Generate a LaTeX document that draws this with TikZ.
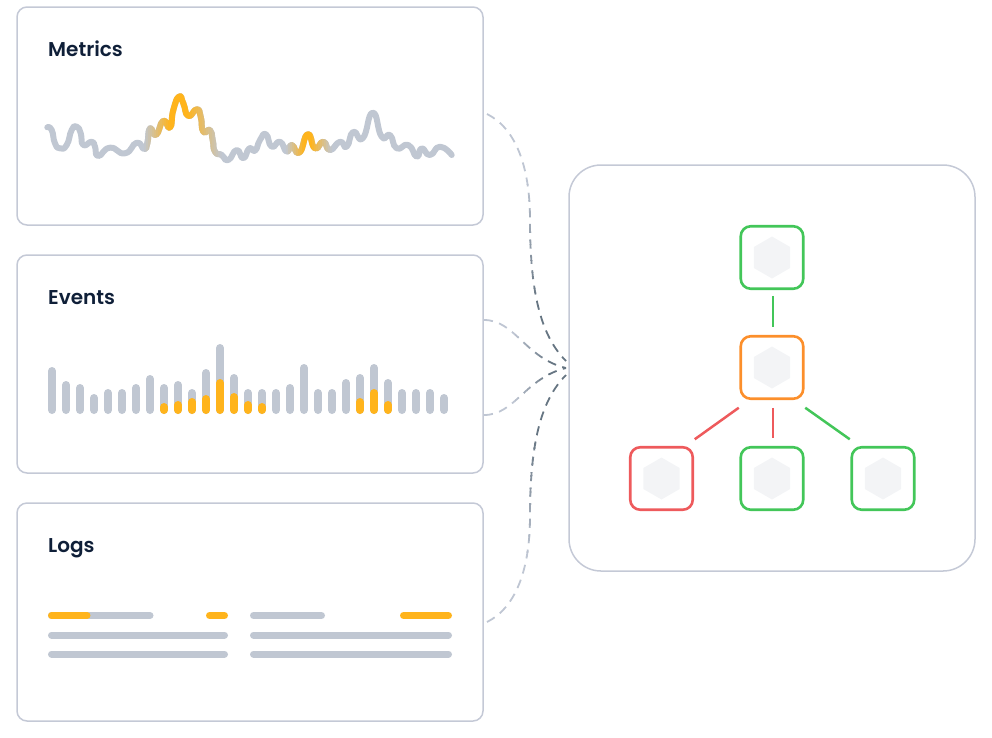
\documentclass[tikz,border=0pt]{standalone}
\usepackage{fontspec}
\setmainfont{Poppins}
\newfontfamily\titlefont{Poppins SemiBold}
\usetikzlibrary{shapes.geometric, positioning}

\definecolor{ink}{HTML}{0F1F38}
\definecolor{cardline}{HTML}{C4C9D6}
\definecolor{slate}{HTML}{C0C7D2}
\definecolor{amber}{HTML}{FFB41C}
\definecolor{okgreen}{HTML}{43C659}
\definecolor{badred}{HTML}{EE5A5C}
\definecolor{warnorange}{HTML}{FC8F2B}
\definecolor{hexfill}{HTML}{F3F4F6}
\definecolor{routelight}{HTML}{BFC6D3}
\definecolor{routedark}{HTML}{667582}

\newcommand{\drawwave}[1]{\draw[wave, #1] plot[smooth, tension=1] coordinates {(47.3,127.3) (51.7,130) (55,143.3) (60,148.3) (66.7,145) (71.7,130) (76.7,126.7) (80.7,133.3) (83.3,145) (91.7,141.7) (95,146.7) (98.3,156) (110,147.7) (125,153.3) (136.7,142.7) (144,149) (147.3,143.3) (150,128.3) (156,135) (163.3,120.7) (170,127.7) (173.3,110) (179,96.7) (183.3,103.3) (188.3,116) (196.7,109.3) (200.7,116.7) (203.3,131.7) (210,130) (212.7,140) (215,151.7) (221.7,155) (228.3,160) (236.7,150) (243.3,158.3) (249.3,148.3) (255,150.7) (260,140) (266,134.3) (271.7,146.7) (280,141.7) (286.7,151.7) (291.7,145) (299.3,152.7) (307.7,134.3) (315,148.3) (323.3,141.7) (330,150) (340,141.7) (346.7,146.7) (353.3,131.7) (362.7,138.3) (372.7,112.7) (381.7,136.7) (390,135) (396.7,148.3) (408.3,145) (416.7,156.7) (421.7,148.3) (430,155) (440,146.7) (451.7,155)};}

% tramo naranja de la curva: sube de #1 a #2, baja de #3 a #4
\newcommand{\waveglow}[4]{%
  \foreach \sx in {#1,\the\numexpr#1+2\relax,...,#4} {
    \pgfmathsetmacro{\pct}{100*max(0,min(1,min((\sx+1-#1)/(#2-#1),(#4-\sx-1)/(#4-#3))))}
    \begin{scope}
      \clip (\sx,60) rectangle (\sx+2.2,180);
      \drawwave{amber!\pct!slate}
    \end{scope}
  }}

\newcommand{\routeMetrics}[1]{\draw[route, #1] ([shift={(4,-2)}]metrics.east) .. controls +(28,14) and (530,165) .. (530,220) .. controls (530,290) and (540,335) .. ([shift={(0,-7)}]hub);}
\newcommand{\routeLogs}[1]{\draw[route, #1] ([shift={(4,10)}]logs.east) .. controls +(28,-14) and (530,571) .. (530,516) .. controls (530,446) and (540,401) .. ([shift={(0,7)}]hub);}
\newcommand{\routeEvents}[1]{%
  \draw[route, #1] ([shift={(1,-44)}]events.east) .. controls +(31,0) and (525,358) .. (hub);
  \draw[route, #1] ([shift={(1,51)}]events.east) .. controls +(31,0) and (525,378) .. (hub);}

\begin{document}
\begin{tikzpicture}[
    x=1pt, y=-1pt,
    card/.style={rectangle, draw=cardline, line width=1.5pt, rounded corners=10pt, minimum width=466pt, minimum height=218pt, outer sep=0pt},
    cardtitle/.style={anchor=base west, inner sep=0pt, text=ink, font=\titlefont\fontsize{20}{24}\selectfont},
    wave/.style={line width=6pt, line cap=round, line join=round},
    bar/.style={line width=8pt, line cap=round},
    logbar/.style={line width=7pt, line cap=round},
    route/.style={line width=1.8pt, dash pattern=on 9pt off 6.5pt},
    pod/.style={rectangle, line width=2.6pt, rounded corners=10pt, minimum size=62.5pt, outer sep=0pt},
    hexa/.style={regular polygon, regular polygon sides=6, shape border rotate=30, fill=hexfill, minimum size=42pt, inner sep=0pt},
    edge/.style={line width=2.5pt}
]
\useasboundingbox (0,0) rectangle (992,737);

% Tarjetas
\node (metrics) [card] at (250,116) {};
\node (events) [card, below=30pt of metrics] {};
\node (logs) [card, below=30pt of events] {};
\node (cluster) [card, minimum width=406pt, minimum height=406pt, rounded corners=32pt] at (772,368) {};

\node (metricsTitle) [cardtitle] at ([shift={(31,49)}]metrics.north west) {Metrics};
\node (eventsTitle) [cardtitle] at ([shift={(31,49)}]events.north west) {Events};
\node (logsTitle) [cardtitle] at ([shift={(31,49)}]logs.north west) {Logs};

% Curva de metricas
\drawwave{slate}
\waveglow{144}{170}{188}{222}
\waveglow{286}{304}{311}{332}

% Barras de eventos
\foreach \sx/\stop in {52/367,66/381,80/384,94/394,108/389,122/389,136/384,150/375,164/384,178/381,192/389,206/369,220/344,234/374,248/389,262/389,276/389,290/384,304/364,318/389,332/389,346/379,360/374,374/364,388/379,402/389,416/389,430/389,444/394}
  \draw[bar, slate] (\sx,\stop+4) -- (\sx,410);
\foreach \sx/\stop in {164/403,178/401,192/398,206/395,220/379,234/393,248/401,262/403,360/398,374/389,388/401}
  \draw[bar, amber] (\sx,\stop+4) -- (\sx,410);

% Barras de logs
\draw[logbar, slate] (51.5,615.5) -- (150,615.5);
\draw[logbar, amber] (51.5,615.5) -- (87,615.5);
\draw[logbar, amber] (209.5,615.5) -- (224.5,615.5);
\draw[logbar, slate] (253.5,615.5) -- (321.5,615.5);
\draw[logbar, amber] (403.5,615.5) -- (448.5,615.5);
\foreach \ly in {635,654} {
  \draw[logbar, slate] (51.5,\ly) -- (224.5,\ly);
  \draw[logbar, slate] (253.5,\ly) -- (448.5,\ly);
}

% Nodos del cluster
\node (podTop) [pod, draw=okgreen] at (772,257.5) {};
\node (podMid) [pod, draw=warnorange, below=47.5pt of podTop] {};
\node (podLeft) [pod, draw=badred] at (661.5,478.5) {};
\node (podCenter) [pod, draw=okgreen] at (772,478.5) {};
\node (podRight) [pod, draw=okgreen] at (883,478.5) {};

\node (hexTop) [hexa] at (podTop) {};
\node (hexMid) [hexa] at (podMid) {};
\node (hexLeft) [hexa] at (podLeft) {};
\node (hexCenter) [hexa] at (podCenter) {};
\node (hexRight) [hexa] at (podRight) {};

% Enlaces
\draw[edge, okgreen] ([shift={(1,7)}]podTop.south) -- ([shift={(1,-9)}]podMid.north);
\draw[edge, badred] ([shift={(-2,9)}]podMid.south west) -- ([shift={(2,-8)}]podLeft.north east);
\draw[edge, badred] ([shift={(1,9)}]podMid.south) -- ([shift={(1,-9)}]podCenter.north);
\draw[edge, okgreen] ([shift={(2,9)}]podMid.south east) -- ([shift={(-2,-8)}]podRight.north west);

% Rutas punteadas hacia el cluster
\coordinate (hub) at ([shift={(-3,0)}]cluster.west);
\begin{scope}
  \clip (480,100) rectangle (580,180);
  \routeMetrics{routelight}
\end{scope}
\begin{scope}
  \clip (480,556) rectangle (580,640);
  \routeLogs{routelight}
\end{scope}
\foreach \sy in {180,184,...,296} {
  \pgfmathsetmacro{\pct}{100*(\sy-180)/120}
  \begin{scope}
    \clip (480,\sy) rectangle (580,\sy+4.2);
    \routeMetrics{routedark!\pct!routelight}
  \end{scope}
  \begin{scope}
    \clip (480,736-\sy-4.2) rectangle (580,736-\sy);
    \routeLogs{routedark!\pct!routelight}
  \end{scope}
}
\begin{scope}
  \clip (480,300) rectangle (580,368);
  \routeMetrics{routedark}
\end{scope}
\begin{scope}
  \clip (480,368) rectangle (580,436);
  \routeLogs{routedark}
\end{scope}
\begin{scope}
  \clip (480,300) rectangle (512,430);
  \routeEvents{routelight}
\end{scope}
\foreach \sx in {512,515,...,545} {
  \pgfmathsetmacro{\pct}{100*(\sx-512)/36}
  \begin{scope}
    \clip (\sx,300) rectangle (\sx+3.2,430);
    \routeEvents{routedark!\pct!routelight}
  \end{scope}
}
\begin{scope}
  \clip (548,300) rectangle (580,430);
  \routeEvents{routedark}
\end{scope}

\end{tikzpicture}
\end{document}
